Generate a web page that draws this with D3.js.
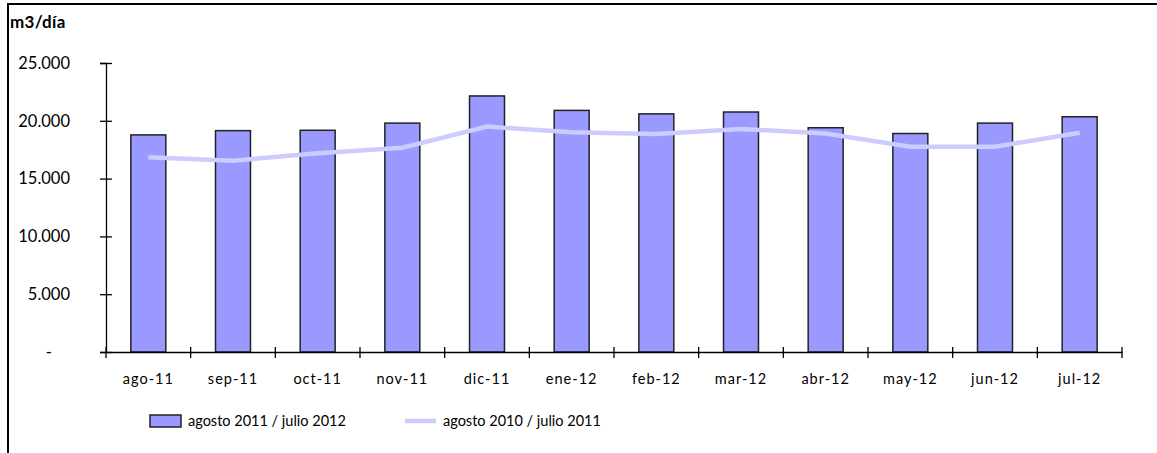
<!DOCTYPE html>
<html><head><meta charset="utf-8">
<script src="https://cdn.jsdelivr.net/npm/d3@7"></script>
<style>body{margin:0;background:#fff;}svg{display:block;}text{font-family:Lato,"Open Sans",sans-serif;fill:#000;}</style>
</head><body>
<svg id="c" width="1157" height="453"></svg>
<script>
const categories = ["ago-11","sep-11","oct-11","nov-11","dic-11","ene-12","feb-12","mar-12","abr-12","may-12","jun-12","jul-12"];
const bars2011_2012 = [18780,19150,19180,19800,22150,20900,20600,20760,19400,18900,19800,20350];
const line2010_2011 = [16840,16550,17190,17670,19500,19000,18860,19300,18900,17760,17760,18970];
const yTicks = [0,5000,10000,15000,20000,25000];
const seriesNames = ["agosto 2011 / julio 2012","agosto 2010 / julio 2011"];

const svg = d3.select("#c");
const x = d3.scaleBand().domain(categories).range([106,1122]).paddingInner(0.587).paddingOuter(0.2935);
const xc = d3.scalePoint().domain(categories).range([106,1122]).padding(0.5);
const y = d3.scaleLinear().domain([0,25000]).range([352,63]);

// frame (top & left)
svg.append("line").attr("x1",7).attr("x2",1157).attr("y1",4).attr("y2",4).attr("stroke","#000").attr("stroke-width",2);
svg.append("line").attr("x1",8).attr("x2",8).attr("y1",3).attr("y2",453).attr("stroke","#000").attr("stroke-width",2);

svg.append("text").attr("x",10).attr("y",28).attr("font-weight","bold").attr("font-size",17).attr("letter-spacing","0.3px").text("m3/día");

// bars
svg.selectAll("rect.bar").data(bars2011_2012).enter().append("rect")
  .attr("x",(d,i)=>x(categories[i])).attr("width",x.bandwidth())
  .attr("y",d=>y(d)).attr("height",d=>y(0)-y(d))
  .attr("fill","#9999ff").attr("stroke","#222").attr("stroke-width",1.5);

// line
svg.append("path").datum(line2010_2011)
  .attr("d",d3.line().x((d,i)=>xc(categories[i])).y(d=>y(d)))
  .attr("fill","none").attr("stroke","#ccccff").attr("stroke-width",4.5);

// y axis
const yAxis = d3.axisLeft(y).tickValues(yTicks).tickSize(6)
  .tickFormat(d=> d===0 ? "-" : d3.format(",")(d).replace(/,/g,"."));
const ga = svg.append("g").attr("transform","translate(106,0)").call(yAxis);
ga.select(".domain").attr("stroke","#000").attr("stroke-width",1.3);
ga.selectAll(".tick line").attr("x1",-6).attr("x2",6).attr("stroke","#000").attr("stroke-width",1.3);
ga.selectAll(".tick text").attr("x",-36).attr("font-size",16.5).attr("font-family","Lato,sans-serif");
ga.selectAll(".tick").filter(d=>d===0).select("text").attr("x",-54);

// x axis
const xAxis = d3.axisBottom(x).tickSize(0).tickSizeOuter(0);
const gx = svg.append("g").attr("transform","translate(0,352)").call(xAxis);
gx.select(".domain").attr("stroke","#000").attr("stroke-width",1.3);
gx.selectAll(".tick text").attr("y",22).attr("font-size",14.5).attr("letter-spacing","1px").attr("font-family","Lato,sans-serif");
// category boundary ticks
const bounds = d3.range(categories.length+1).map(i=>106+i*(1016/categories.length));
gx.selectAll("line.bt").data(bounds).enter().append("line")
  .attr("x1",d=>d).attr("x2",d=>d).attr("y1",-5).attr("y2",6).attr("stroke","#000").attr("stroke-width",1.3);

// legend
const lg = svg.append("g");
lg.append("rect").attr("x",150).attr("y",415).attr("width",31).attr("height",12)
  .attr("fill","#9999ff").attr("stroke","#222").attr("stroke-width",1.5);
lg.append("text").attr("x",188).attr("y",426).attr("font-size",14.5).text(seriesNames[0]);
lg.append("line").attr("x1",405).attr("x2",436).attr("y1",421).attr("y2",421).attr("stroke","#ccccff").attr("stroke-width",4.5);
lg.append("text").attr("x",443).attr("y",426).attr("font-size",14.5).text(seriesNames[1]);
</script>
</body></html>
